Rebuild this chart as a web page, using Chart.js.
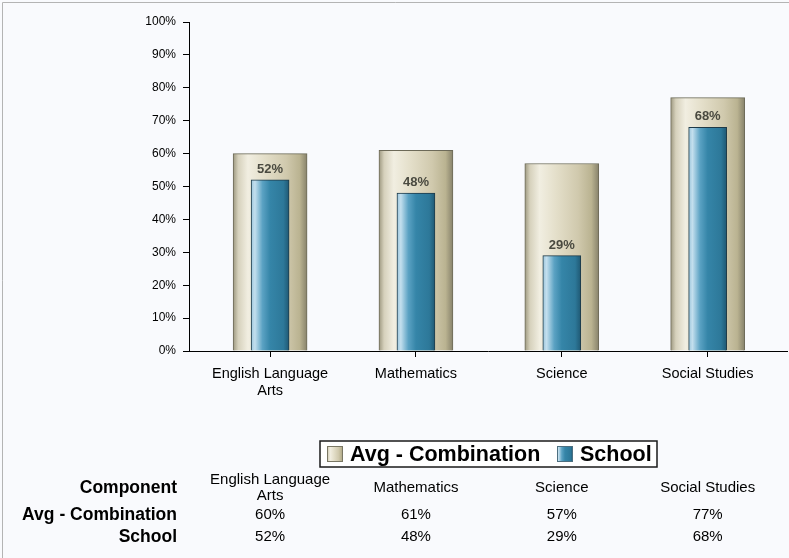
<!DOCTYPE html>
<html>
<head>
<meta charset="utf-8">
<script src="https://cdn.jsdelivr.net/npm/chart.js@4/dist/chart.umd.min.js"></script>
<style>
  html, body { margin: 0; padding: 0; background: #f9fafd; }
  canvas { display: block; }
</style>
</head>
<body>
<canvas id="c" width="789" height="558"></canvas>
<script>
// ---- data ----
const categories = ['English Language Arts', 'Mathematics', 'Science', 'Social Studies'];
const xTickLabels = [['English Language', 'Arts'], ['Mathematics'], ['Science'], ['Social Studies']];
const seriesNames = ['Avg - Combination', 'School'];
const avgValues = [60, 61, 57, 77];
const schoolValues = [52, 48, 29, 68];
const yTickValues = [0, 10, 20, 30, 40, 50, 60, 70, 80, 90, 100];
const tableRowLabel = 'Component';

// ---- styles ----
const FONT = '"Liberation Sans", Arial, sans-serif';
const avgStops = [[0, '#9d9880'], [0.07, '#d6d1bc'], [0.2, '#f1eee1'], [0.42, '#e4dfca'], [0.72, '#d0c9ad'], [0.9, '#bab391'], [1, '#87826b']];
const schoolStops = [[0, '#9cc6dc'], [0.1, '#c3dfee'], [0.3, '#5ba2c3'], [0.5, '#3585a8'], [0.85, '#2d7899'], [1, '#1f5873']];
const AVG_W = 74, SCHOOL_W = 38;

function makeGrad(c2d, x0, x1, stops) {
  const g = c2d.createLinearGradient(x0, 0, x1, 0);
  stops.forEach(s => g.addColorStop(s[0], s[1]));
  return g;
}
function barGrad(stops, width) {
  return function (ctx) {
    const chart = ctx.chart;
    const xs = chart.scales && chart.scales.x;
    if (!xs || ctx.type !== 'data' || !isFinite(xs.width)) return stops[2][1];
    const cx = xs.getPixelForValue(ctx.dataIndex);
    return makeGrad(chart.ctx, cx - width / 2, cx + width / 2, stops);
  };
}

const bgPlugin = {
  id: 'bg',
  beforeDraw(chart) {
    const c = chart.ctx;
    c.save();
    c.fillStyle = '#f9fafd';
    c.fillRect(0, 0, chart.width, chart.height);
    c.strokeStyle = '#b4b4b4';
    c.lineWidth = 1;
    c.beginPath();
    c.moveTo(2.5, chart.height);
    c.lineTo(2.5, 2.5);
    c.lineTo(chart.width, 2.5);
    c.stroke();
    c.restore();
  }
};

const labelPlugin = {
  id: 'barLabels',
  afterDatasetsDraw(chart) {
    const c = chart.ctx;
    const meta = chart.getDatasetMeta(0);
    c.save();
    c.font = 'bold 13px ' + FONT;
    c.fillStyle = '#4a4a40';
    c.textAlign = 'center';
    c.textBaseline = 'bottom';
    meta.data.forEach((el, i) => {
      c.fillText(schoolValues[i] + '%', el.x, el.y - 4);
    });
    c.restore();
  }
};

const legendTablePlugin = {
  id: 'legendTable',
  afterDraw(chart) {
    const c = chart.ctx;
    const xs = chart.scales.x;
    c.save();
    // legend box
    c.fillStyle = '#ffffff';
    c.fillRect(320, 441, 337, 26);
    c.strokeStyle = '#1a1a1a';
    c.lineWidth = 1.5;
    c.strokeRect(320, 441, 337, 26);
    const items = [
      { name: seriesNames[0], x: 327, stops: avgStops, border: '#7a7764' },
      { name: seriesNames[1], x: 557, stops: schoolStops, border: '#4d6f80' }
    ];
    c.font = 'bold 21.5px ' + FONT;
    c.textBaseline = 'middle';
    c.textAlign = 'left';
    items.forEach(it => {
      c.fillStyle = makeGrad(c, it.x, it.x + 16, it.stops);
      c.fillRect(it.x, 446, 16, 16);
      c.strokeStyle = it.border;
      c.lineWidth = 1;
      c.strokeRect(it.x + 0.5, 446.5, 15, 15);
      c.fillStyle = '#000';
      c.fillText(it.name, it.x + 23, 455);
    });

    // table
    c.fillStyle = '#000';
    c.textAlign = 'right';
    c.font = 'bold 17.5px ' + FONT;
    c.fillText(tableRowLabel, 177, 488);
    c.fillText(seriesNames[0], 177, 515);
    c.fillText(seriesNames[1], 177, 537);
    c.textAlign = 'center';
    c.font = '15px ' + FONT;
    xTickLabels.forEach((lines, i) => {
      const cx = xs.getPixelForValue(i);
      if (lines.length === 2) {
        c.fillText(lines[0], cx, 480);
        c.fillText(lines[1], cx, 496);
      } else {
        c.fillText(lines[0], cx, 488);
      }
      c.fillText(avgValues[i] + '%', cx, 515);
      c.fillText(schoolValues[i] + '%', cx, 537);
    });
    c.restore();
  }
};

new Chart(document.getElementById('c'), {
  type: 'bar',
  data: {
    datasets: [
      {
        label: seriesNames[1],
        data: schoolValues.map((v, i) => ({ x: i, y: v })),
        backgroundColor: barGrad(schoolStops, SCHOOL_W),
        borderColor: '#1e3a48',
        borderWidth: 1,
        borderSkipped: 'start',
        barThickness: SCHOOL_W,
        order: 0
      },
      {
        label: seriesNames[0],
        data: avgValues.map((v, i) => ({ x: i, y: v })),
        backgroundColor: barGrad(avgStops, AVG_W),
        borderColor: '#6d6a58',
        borderWidth: 1,
        borderSkipped: 'start',
        barThickness: AVG_W,
        order: 1
      }
    ]
  },
  options: {
    responsive: false,
    animation: false,
    devicePixelRatio: 1,
    layout: { padding: { top: 22, right: 2, bottom: 157, left: 0 } },
    plugins: { legend: { display: false }, tooltip: { enabled: false } },
    datasets: { bar: { grouped: false } },
    scales: {
      x: {
        type: 'linear',
        min: -0.556,
        max: 3.544,
        offset: false,
        afterBuildTicks: s => { s.ticks = xTickLabels.map((_, i) => ({ value: i })); },
        afterFit: s => { s.height = 50; },
        ticks: {
          autoSkip: false,
          maxRotation: 0,
          padding: 8,
          color: '#000',
          font: { family: FONT, size: 14.5, lineHeight: 1.18 },
          callback: v => xTickLabels[v]
        },
        grid: { offset: false, drawOnChartArea: false, drawTicks: true, tickLength: 6, color: '#000' },
        border: { color: '#000', width: 1 }
      },
      y: {
        min: 0,
        max: 100,
        afterBuildTicks: s => { s.ticks = yTickValues.map(v => ({ value: v })); },
        afterFit: s => { s.width = 189; },
        ticks: {
          padding: 7,
          color: '#000',
          font: { family: FONT, size: 12 },
          callback: v => v + '%'
        },
        grid: { drawOnChartArea: false, drawTicks: true, tickLength: 6, color: '#000' },
        border: { color: '#000', width: 1 }
      }
    }
  },
  plugins: [bgPlugin, labelPlugin, legendTablePlugin]
});
</script>
</body>
</html>
